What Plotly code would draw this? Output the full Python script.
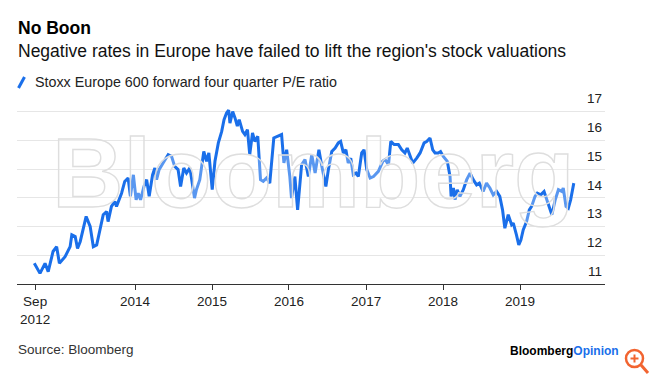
import plotly.graph_objects as go

# ---- data ----
dates = [
    "2012-09-10", "2012-10-07", "2012-10-31", "2012-11-15", "2012-12-08", "2012-12-25",
    "2013-01-07", "2013-02-03", "2013-02-27", "2013-03-07", "2013-03-23", "2013-04-03",
    "2013-04-16", "2013-04-28", "2013-05-14", "2013-06-02", "2013-06-17", "2013-07-03",
    "2013-07-18", "2013-08-03", "2013-08-19", "2013-08-26", "2013-09-11", "2013-09-27",
    "2013-10-05", "2013-10-29", "2013-11-13", "2013-11-29", "2013-12-10", "2013-12-24",
    "2014-01-06", "2014-01-16", "2014-01-27", "2014-02-12", "2014-02-25", "2014-03-09",
    "2014-03-25", "2014-04-05", "2014-04-13", "2014-04-25", "2014-05-14", "2014-06-07",
    "2014-06-23", "2014-07-08", "2014-07-24", "2014-08-05", "2014-08-20", "2014-09-02",
    "2014-09-18", "2014-10-10", "2014-10-19", "2014-11-04", "2014-11-23", "2014-12-06",
    "2014-12-17", "2015-01-02", "2015-01-15", "2015-01-31", "2015-02-16", "2015-02-27",
    "2015-03-11", "2015-03-21", "2015-03-27", "2015-04-09", "2015-04-20", "2015-05-01",
    "2015-05-10", "2015-05-26", "2015-06-06", "2015-06-18", "2015-06-29", "2015-07-12",
    "2015-07-23", "2015-08-06", "2015-08-19", "2015-09-01", "2015-09-17", "2015-10-02",
    "2015-10-21", "2015-11-11", "2015-11-27", "2015-12-08", "2015-12-21", "2016-01-05",
    "2016-01-13", "2016-01-29", "2016-02-11", "2016-03-01", "2016-03-17", "2016-04-02",
    "2016-04-18", "2016-05-04", "2016-05-22", "2016-06-05", "2016-06-24", "2016-07-06",
    "2016-07-22", "2016-08-07", "2016-08-22", "2016-09-02", "2016-09-15", "2016-09-27",
    "2016-10-08", "2016-10-20", "2016-11-01", "2016-11-14", "2016-11-25", "2016-12-11",
    "2016-12-22", "2017-01-04", "2017-01-20", "2017-02-05", "2017-02-28", "2017-03-21",
    "2017-04-01", "2017-04-17", "2017-04-28", "2017-05-14", "2017-06-03", "2017-06-19",
    "2017-07-04", "2017-07-15", "2017-07-28", "2017-08-10", "2017-08-29", "2017-09-14",
    "2017-10-03", "2017-10-15", "2017-10-31", "2017-11-13", "2017-11-24", "2017-12-09",
    "2017-12-20", "2018-01-02", "2018-01-21", "2018-02-03", "2018-02-08", "2018-02-19",
    "2018-02-27", "2018-03-09", "2018-03-22", "2018-04-07", "2018-04-23", "2018-05-09",
    "2018-05-24", "2018-06-09", "2018-06-22", "2018-07-10", "2018-07-26", "2018-08-11",
    "2018-08-27", "2018-09-12", "2018-09-27", "2018-10-10", "2018-10-21", "2018-11-06",
    "2018-11-22", "2018-11-30", "2018-12-15", "2018-12-26", "2019-01-05", "2019-01-16",
    "2019-02-01", "2019-02-14", "2019-02-25", "2019-03-13", "2019-03-24", "2019-04-09",
    "2019-04-25", "2019-05-08", "2019-05-20", "2019-06-01", "2019-06-17", "2019-07-02",
    "2019-07-18", "2019-07-25", "2019-08-07", "2019-08-18", "2019-08-29", "2019-09-13",
]
pe_ratio = [
    11.72, 11.37, 11.72, 11.43, 12.13, 12.30,
    11.72, 11.95, 12.30, 12.71, 12.65, 12.24,
    12.48, 12.88, 13.35, 13.00, 12.30, 12.36,
    12.88, 13.41, 13.52, 13.17, 13.70, 13.87,
    13.70, 14.16, 14.57, 14.69, 14.05, 14.80,
    13.93, 14.16, 13.93, 14.39, 14.63, 14.05,
    14.80, 15.04, 14.63, 14.98, 15.21, 15.50,
    15.44, 15.09, 14.98, 14.39, 15.04, 14.86,
    15.04, 13.99, 14.28, 14.63, 15.61, 15.27,
    15.56, 14.28, 15.27, 15.91, 16.31, 16.72,
    16.95, 17.05, 16.60, 17.00, 16.78, 16.49,
    16.72, 16.31, 16.20, 16.37, 15.50, 16.26,
    15.96, 16.14, 14.63, 14.57, 14.69, 14.51,
    16.08, 16.14, 16.20, 15.21, 15.67, 14.74,
    13.99, 14.74, 13.58, 15.15, 15.33, 14.74,
    15.50, 14.86, 15.67, 15.09, 14.39, 14.98,
    15.61, 15.73, 15.91, 15.96, 15.56, 15.67,
    15.21, 15.38, 14.80, 14.86, 14.74, 15.56,
    15.67, 14.98, 14.69, 14.74, 14.92, 15.27,
    15.33, 15.15, 15.96, 15.85, 15.85, 15.67,
    15.56, 15.73, 15.50, 15.21, 15.38, 15.56,
    15.91, 15.96, 16.08, 15.67, 15.56, 15.56,
    15.61, 15.44, 15.27, 14.74, 14.05, 14.34,
    13.93, 14.28, 14.05, 14.28, 14.63, 14.86,
    14.63, 14.45, 14.51, 14.22, 14.51, 14.34,
    14.10, 14.22, 14.05, 13.58, 12.94, 13.41,
    13.06, 13.12, 12.71, 12.36, 12.53, 12.88,
    13.17, 13.58, 13.70, 14.05, 14.16, 14.10,
    14.22, 13.93, 13.70, 13.41, 13.93, 14.28,
    14.22, 14.34, 13.70, 13.64, 13.93, 14.51,
]
x_tick_dates = ["2012-09-14", "2014-01-01", "2015-01-01", "2016-01-01",
                "2017-01-01", "2018-01-01", "2019-01-01"]
x_tick_labels = ["Sep<br>2012", "2014", "2015", "2016", "2017", "2018", "2019"]
y_ticks = [11, 12, 13, 14, 15, 16, 17]

title_text = "No Boon"
subtitle_text = "Negative rates in Europe have failed to lift the region's stock valuations"
series_name = "Stoxx Europe 600 forward four quarter P/E ratio"
source_text = "Source: Bloomberg"

# ---- styling / layout ----
W, H = 650, 379
ML, MR, MT, MB = 17, 45, 90, 95
PW, PH = W - ML - MR, H - MT - MB
BLUE = "#1a6fea"
FONT = "Liberation Sans, Arial, Helvetica, sans-serif"


def px(x):
    return (x - ML) / PW


def py(y):
    return (H - MB - y) / PH


fig = go.Figure()
fig.add_trace(go.Scatter(
    x=dates, y=pe_ratio, mode="lines", name=series_name,
    line=dict(color=BLUE, width=3), showlegend=False, hoverinfo="skip",
))

annotations = [
    # watermark
    dict(text="Bloomberg", x=px(314), y=py(172), xref="paper", yref="paper",
         xanchor="center", yanchor="middle", showarrow=False,
         font=dict(family=FONT, size=99, color="rgba(255,255,255,0.28)", weight="bold")),
    dict(text=title_text, x=px(16), y=py(28), xref="paper", yref="paper",
         xanchor="left", yanchor="middle", showarrow=False,
         font=dict(family=FONT, size=17.5, color="#000000", weight="bold")),
    dict(text=subtitle_text, x=px(16), y=py(51), xref="paper", yref="paper",
         xanchor="left", yanchor="middle", showarrow=False,
         font=dict(family=FONT, size=17.5, color="#111111")),
    dict(text=series_name, x=px(33), y=py(82), xref="paper", yref="paper",
         xanchor="left", yanchor="middle", showarrow=False,
         font=dict(family=FONT, size=14.3, color="#222222")),
    dict(text=source_text, x=px(16), y=py(349), xref="paper", yref="paper",
         xanchor="left", yanchor="middle", showarrow=False,
         font=dict(family=FONT, size=13.5, color="#333333")),
    dict(text="<b>Bloomberg</b><b style='color:#1a6fea'>Opinion</b>",
         x=px(621), y=py(351), xref="paper", yref="paper",
         xanchor="right", yanchor="middle", showarrow=False,
         font=dict(family=FONT, size=12, color="#000000")),
]

ORANGE = "#f26430"
shapes = [
    # legend key (slash)
    dict(type="line", xref="paper", yref="paper", x0=px(18.5), y0=py(88), x1=px(24.5), y1=py(77),
         line=dict(color=BLUE, width=3)),
    # magnifier icon
    dict(type="circle", xref="paper", yref="paper", x0=px(626), x1=px(643), y0=py(367), y1=py(350),
         line=dict(color=ORANGE, width=2.5)),
    dict(type="line", xref="paper", yref="paper", x0=px(641), y0=py(365), x1=px(648), y1=py(373),
         line=dict(color=ORANGE, width=3)),
    dict(type="line", xref="paper", yref="paper", x0=px(630.5), y0=py(358.5), x1=px(638.5), y1=py(358.5),
         line=dict(color=ORANGE, width=2)),
    dict(type="line", xref="paper", yref="paper", x0=px(634.5), y0=py(354.5), x1=px(634.5), y1=py(362.5),
         line=dict(color=ORANGE, width=2)),
]

fig.update_layout(
    width=W, height=H,
    margin=dict(l=ML, r=MR, t=MT, b=MB, pad=0, autoexpand=False),
    paper_bgcolor="white", plot_bgcolor="white",
    font=dict(family=FONT, color="#222222"),
    showlegend=False,
    annotations=annotations,
    shapes=shapes,
    xaxis=dict(
        type="date", range=["2012-06-20", "2020-02-08"], automargin=False,
        tickmode="array", tickvals=x_tick_dates, ticktext=x_tick_labels,
        ticks="outside", ticklen=5, tickwidth=1, tickcolor="#333333",
        showline=True, linecolor="#333333", linewidth=1,
        showgrid=False, zeroline=False,
        tickfont=dict(family=FONT, size=13.5, color="#222222"),
    ),
    yaxis=dict(
        side="right", range=[11, 17.75], automargin=False,
        tickmode="array", tickvals=y_ticks,
        ticks="", ticklabelposition="inside", ticklabelshift=-13,
        showgrid=True, gridcolor="#e6e6e6", gridwidth=1,
        zeroline=False, showline=False,
        tickfont=dict(family=FONT, size=13.5, color="#222222"),
    ),
)

post = """
document.body.style.margin = '0';
document.body.style.padding = '0';
var gd = document.getElementById('{plot_id}');
function wm(){
  gd.querySelectorAll('.annotation-text').forEach(function(t){
    if (t.textContent === 'Bloomberg') {
      t.style.stroke = '#dedede';
      t.style.strokeWidth = '1.4px';
    }
  });
}
wm();
gd.on('plotly_afterplot', wm);
"""

fig.write_html("out.html", post_script=post,
               config={"displayModeBar": False, "staticPlot": True})
